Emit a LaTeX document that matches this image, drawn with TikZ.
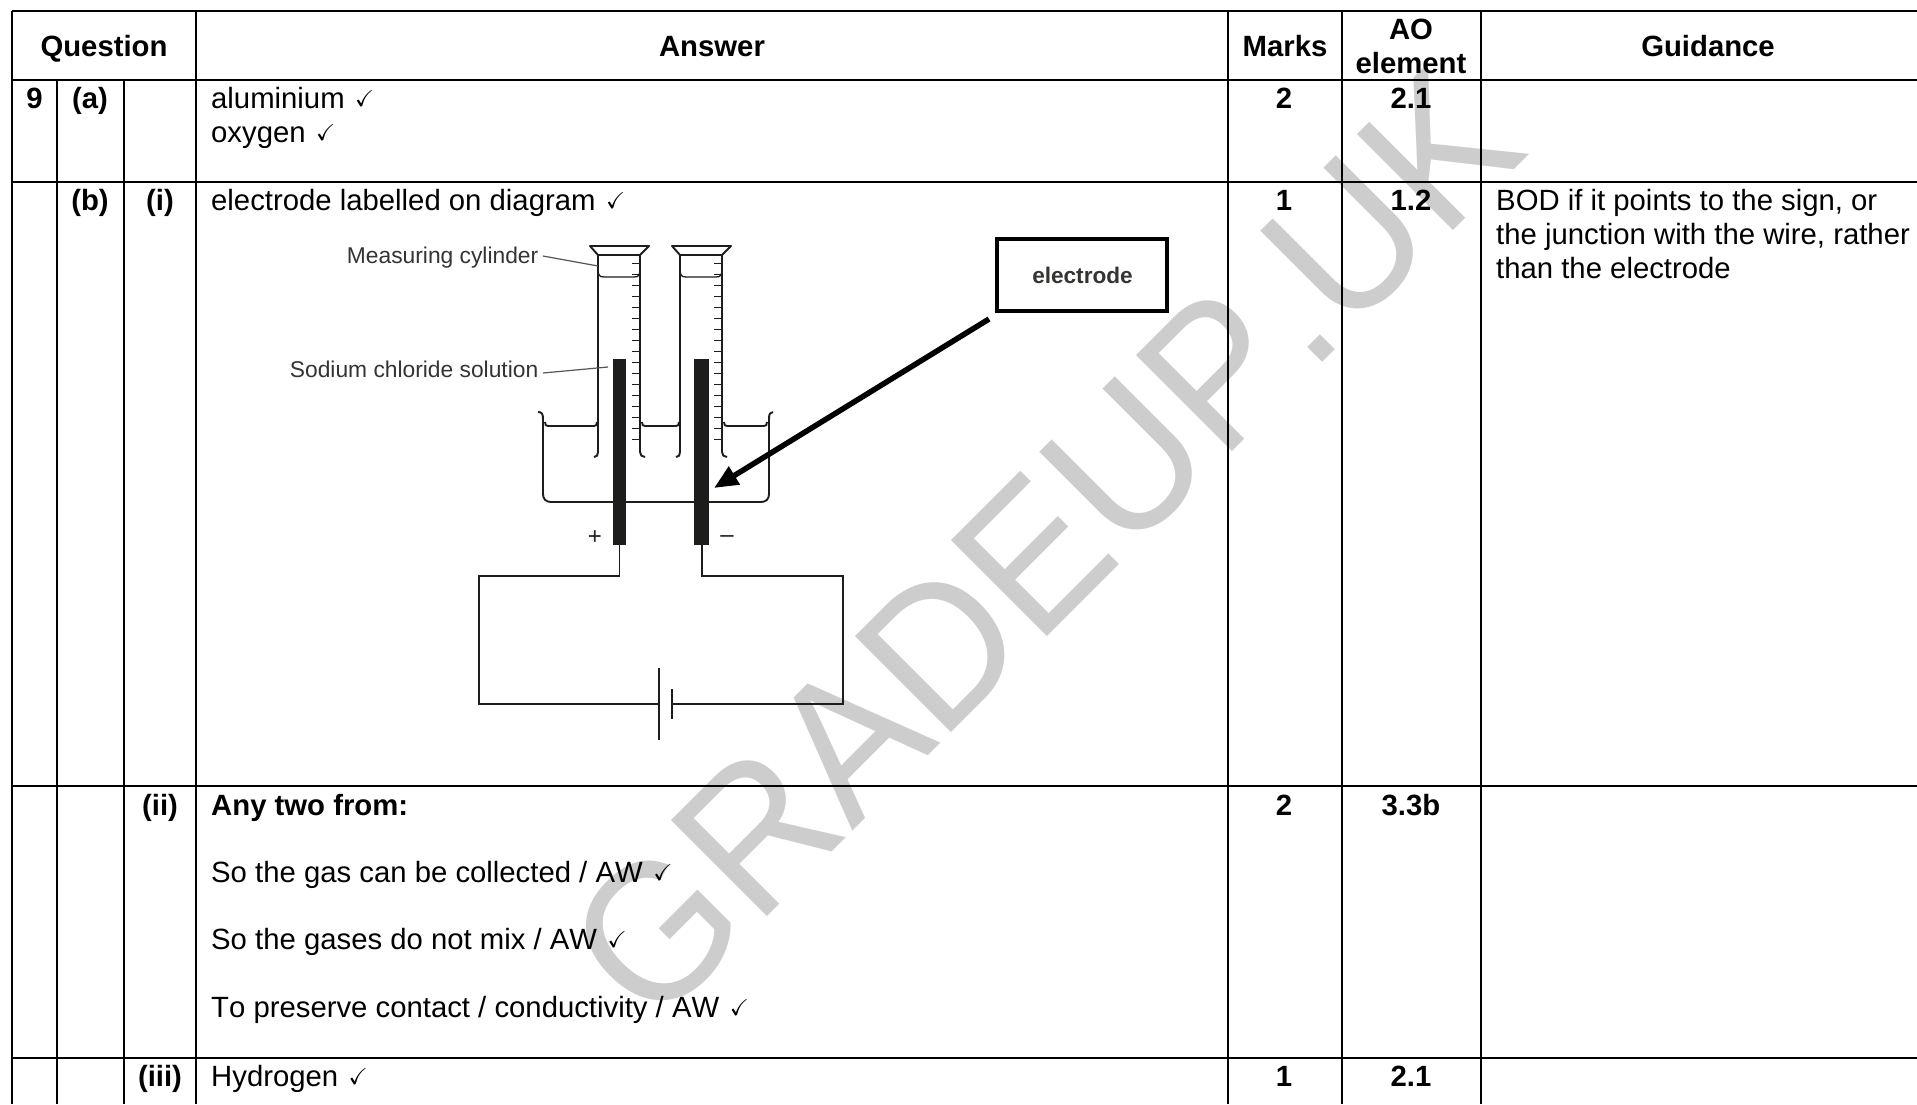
\documentclass[tikz,border=0pt]{standalone}
\usepackage{fontspec}
\usepackage{amssymb}
\usepackage{graphicx}
\setmainfont[Kerning=Off]{Liberation Sans}
\usetikzlibrary{arrows.meta}
\definecolor{ink}{HTML}{1D1D1B}
\definecolor{wm}{HTML}{CDCDCD}
\newcommand{\tk}{\hspace{10.5pt}\raisebox{2pt}{\fontsize{23}{23}\selectfont$\checkmark$}}
\tikzset{
  grid/.style={line width=2.2pt,black},
  txt/.style={anchor=base west,inner sep=0pt,font=\fontsize{29.3}{34}\selectfont},
  head/.style={anchor=base,inner sep=0pt,font=\fontsize{29.3}{34}\selectfont\bfseries},
  lab/.style={anchor=base east,inner sep=0pt,text=ink!90,font=\fontsize{22.8}{26}\selectfont},
  app/.style={line width=1.9pt,ink},
  thin/.style={line width=1.3pt,ink},
  leader/.style={line width=1.2pt,ink!75},
  elec/.style={fill=ink,draw=none},
}
\begin{document}
\begin{tikzpicture}[x=1pt,y=-1pt,line join=miter]
\path[use as bounding box,fill=white] (0,0) rectangle (1917,1104);
\node[anchor=base west,inner sep=0pt,rotate=45,text=wm,font=\fontsize{188}{188}\selectfont] (wmark) at (652.5,1031.5) {\scalebox{1}[1.05]{GRADEUP.UK}};
% table
\draw[grid] (12,11) -- (1917,11);
\draw[grid] (12,80) -- (1917,80);
\draw[grid] (12,182) -- (1917,182);
\draw[grid] (12,786) -- (1917,786);
\draw[grid] (12,1058) -- (1917,1058);
\draw[grid] (12,11) -- (12,1104);
\draw[grid] (57,80) -- (57,1104);
\draw[grid] (124,80) -- (124,1104);
\draw[grid] (196,11) -- (196,1104);
\draw[grid] (1228,11) -- (1228,1104);
\draw[grid] (1342,11) -- (1342,1104);
\draw[grid] (1481,11) -- (1481,1104);
% headers
\node[head] (hq) at (104,56) {Question};
\node[head] (ha) at (712,56) {Answer};
\node[head] (hm) at (1285,56) {Marks};
\node[head] (hao) at (1411,39) {AO};
\node[head] (hel) at (1411,73) {element};
\node[head] (hg) at (1708,56) {Guidance};
% first cols
\node[head] (n9) at (34.5,108) {9};
\node[head] (na) at (90,108) {(a)};
\node[head] (nb) at (90,210) {(b)};
\node[head] (ni) at (160,210) {(i)};
\node[head] (nii) at (160,815) {(ii)};
\node[head] (niii) at (160,1086) {(iii)};
% answers
\node[txt] (t1) at (211,108) {aluminium\tk};
\node[txt] (t2) at (211,142) {oxygen\tk};
\node[txt] (t3) at (211,210) {electrode labelled on diagram\tk};
\node[txt,font=\fontsize{29.3}{34}\selectfont\bfseries] (t4) at (211,815) {Any two from:};
\node[txt] (t5) at (211,882) {So the gas can be collected / AW\tk};
\node[txt] (t6) at (211,949) {So the gases do not mix / AW\tk};
\node[txt] (t7) at (211,1017) {To preserve contact / conductivity / AW\tk};
\node[txt] (t8) at (211,1086) {Hydrogen\tk};
% marks and AO
\node[head] (m1) at (1284,108) {2};
\node[head] (a1) at (1411,108) {2.1};
\node[head] (m2) at (1284,210) {1};
\node[head] (a2) at (1411,210) {1.2};
\node[head] (m3) at (1284,815) {2};
\node[head] (a3) at (1411,815) {3.3b};
\node[head] (m4) at (1284,1086) {1};
\node[head] (a4) at (1411,1086) {2.1};
% guidance
\node[txt] (g1) at (1496,210) {BOD if it points to the sign, or};
\node[txt] (g2) at (1496,244) {the junction with the wire, rather};
\node[txt] (g3) at (1496,278) {than the electrode};
% cylinders
\foreach \d in {0,82}{
 \begin{scope}[xshift=\d pt]
  \draw[app,line join=round] (590,246) -- (649,246) -- (640,255) -- (598,255) -- cycle;
  \draw[app] (594,457) .. controls (597,457) and (598,455) .. (598,452) -- (598,255);
  \draw[app] (645,457) .. controls (642,457) and (640,455) .. (640,452) -- (640,255);
  \draw[thin] (598,268) .. controls (598,275) and (599,277) .. (604,277) -- (634,277) .. controls (639,277) and (640,275) .. (640,268);
  \foreach \k in {0,...,16}{
    \draw[thin] ({632},{263.3+11*\k}) -- (640,{263.3+11*\k});
  }
 \end{scope}
}
% beaker
\draw[app] (538,412) .. controls (542,412) and (543,414) .. (543,419) -- (543,494) .. controls (543,499) and (546,502) .. (551,502) -- (761,502) .. controls (766,502) and (769,499) .. (769,494) -- (769,419) .. controls (769,414) and (770,412) .. (773,412);
\draw[app] (545,422) .. controls (545,425) and (546,426) .. (548,426) -- (594,426) .. controls (596,426) and (597,425) .. (597,422);
\draw[app] (642,422) .. controls (642,425) and (643,426) .. (645,426) -- (676,426) .. controls (678,426) and (679,425) .. (679,422);
\draw[app] (724,422) .. controls (724,425) and (725,426) .. (727,426) -- (764,426) .. controls (766,426) and (767,425) .. (767,422);
% electrodes
\path[elec] (613,359) rectangle (626,545);
\path[elec] (694,359) rectangle (709,545);
% wiring
\coordinate (ep) at (619.5,545);
\coordinate (en) at (702,545);
\coordinate (c1) at (659,704);
\coordinate (c2) at (672,704);
\draw[app] (ep) -- (619.5,576) -- (479,576) -- (479,704) -- (c1);
\draw[app] (en) -- (702,576) -- (843,576) -- (843,704) -- (c2);
\draw[app] (659,668) -- (659,740);
\draw[app] (672,689) -- (672,719);
% labels
\node[lab] (lm) at (538.5,263) {Measuring cylinder};
\node[lab] (ls) at (538.5,377) {Sodium chloride solution};
\coordinate (lm1) at (598,266);
\coordinate (ls1) at (608,367);
\draw[leader] (543,256) -- (lm1);
\draw[leader] (543,373) -- (ls1);
\node[inner sep=0pt,text=ink,font=\fontsize{24}{24}\selectfont] (plus) at (595,538) {+};
\node[inner sep=0pt,text=ink,font=\fontsize{24}{24}\selectfont] (minus) at (727,539) {–};
% callout
\node[draw=black,line width=4pt,minimum width=170pt,minimum height=72pt,inner sep=0pt,font=\fontsize{22.6}{26}\selectfont\bfseries,text=ink!90] (ebox) at (1082,275) {\hspace{1pt}electrode};
\coordinate (tip) at (714,488);
\draw[line width=5.5pt,-{Triangle[length=24pt,width=20pt]}] (ebox.south west) ++(-6,6) -- (tip);
\end{tikzpicture}
\end{document}
